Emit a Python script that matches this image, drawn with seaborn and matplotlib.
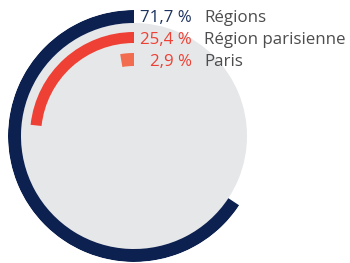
import numpy as np
import seaborn as sns
import matplotlib.pyplot as plt

# share of total, in percent
labels = ["Régions", "Région parisienne", "Paris"]
values = [71.7, 25.4, 2.9]
value_labels = ["71,7 %", "25,4 %", "2,9 %"]

colors = ["#0c2150", "#ee4034", "#f26c4f"]
text_colors = ["#1c325f", "#ee4034", "#ee4034"]
ring_bottom = [113, 93, 70]
ring_height = [13, 11, 13]

sns.set_theme(style="white")
plt.rcParams["font.family"] = ["Open Sans", "DejaVu Sans"]

deg_per_pct = 3.3

fig = plt.figure(figsize=(3.5, 2.63), dpi=100)
ax = fig.add_axes([8 / 350, 1 / 263, 252 / 350, 252 / 263], projection="polar")
ax.set_theta_zero_location("N")
ax.set_theta_direction(1)
ax.set_rlim(0, 126)
ax.set_axis_off()

# grey disc
ax.bar(np.pi, 113, width=2 * np.pi, bottom=0, color="#e6e7e8", linewidth=0)

for v, c, b, h in zip(values, colors, ring_bottom, ring_height):
    ang = np.deg2rad(v * deg_per_pct)
    ax.bar(ang / 2, h, width=ang, bottom=b, color=c, linewidth=0, align="center")

for lab, vl, tc, b, h in zip(labels, value_labels, text_colors, ring_bottom, ring_height):
    r = b + h / 2
    ax.annotate(vl, xy=(0, r), xytext=(58, -6), textcoords="offset pixels",
                ha="right", va="baseline", color=tc, fontsize=12.2,
                annotation_clip=False)
    ax.annotate(lab, xy=(0, r), xytext=(70, -6), textcoords="offset pixels",
                ha="left", va="baseline", color="#4d4d4f", fontsize=12.2,
                annotation_clip=False)

fig.savefig("out.png", dpi=100)
